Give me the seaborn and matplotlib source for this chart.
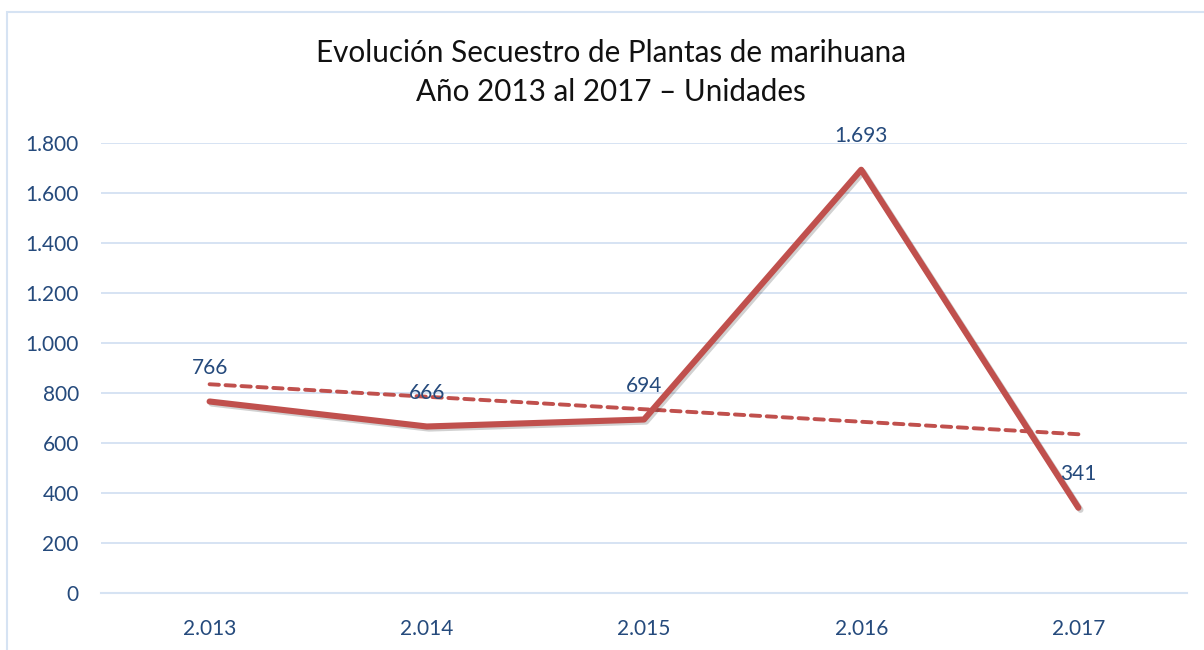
import matplotlib
matplotlib.use("Agg")
import matplotlib.pyplot as plt
import matplotlib.patheffects as pe
from matplotlib.patches import Rectangle
import seaborn as sns
import pandas as pd

years = ["2.013", "2.014", "2.015", "2.016", "2.017"]
plants = [766, 666, 694, 1693, 341]
value_labels = ["766", "666", "694", "1.693", "341"]
trend_years = ["2.013", "2.017"]
trend_values = [835, 635]
y_ticks = [0, 200, 400, 600, 800, 1000, 1200, 1400, 1600, 1800]
y_tick_labels = ["0", "200", "400", "600", "800", "1.000", "1.200", "1.400", "1.600", "1.800"]
title_lines = ["Evolución Secuestro de Plantas de marihuana", "Año 2013 al 2017 – Unidades"]

sns.set_theme(style="white")
plt.rcParams["font.family"] = ["Lato", "DejaVu Sans"]

LINE = "#C0504D"
TXT = "#254A7C"
GRID = "#D6E3F3"

fig = plt.figure(figsize=(12.04, 6.5), dpi=100)
ax = fig.add_axes([101 / 1204, 1 - 593 / 650, (1187 - 101) / 1204, (593 - 143) / 650])

df = pd.DataFrame({"x": list(range(len(years))), "y": plants})
idx = {y: i for i, y in enumerate(years)}
tdf = pd.DataFrame({"x": [idx[t] for t in trend_years], "y": trend_values})

sns.lineplot(data=tdf, x="x", y="y", ax=ax, color=LINE, linewidth=2.8,
             linestyle=(0, (2.4, 1.7)), zorder=3)
sns.lineplot(data=df, x="x", y="y", ax=ax, color=LINE, linewidth=4.4, zorder=4,
             path_effects=[pe.SimpleLineShadow(offset=(1.5, -1.5), alpha=0.2), pe.Normal()])
for line in ax.lines:
    line.set_solid_capstyle("round")
    line.set_dash_capstyle("round")
    line.set_solid_joinstyle("round")

for i, (v, lab) in enumerate(zip(plants, value_labels)):
    ax.annotate(lab, (i, v), xytext=(0, 24), textcoords="offset points",
                ha="center", va="center", fontsize=15, color=TXT, zorder=5)

ax.set_xlim(-0.5, len(years) - 0.5)
ax.set_ylim(0, 1800)
ax.set_yticks(y_ticks)
ax.set_yticklabels(y_tick_labels)
ax.set_xticks(range(len(years)))
ax.set_xticklabels(years)
ax.set_xticks([i - 0.5 for i in range(len(years) + 1)], minor=True)
ax.tick_params(axis="x", which="major", length=0, pad=19, labelsize=15, labelcolor=TXT)
ax.tick_params(axis="x", which="minor", length=8, width=1.5, color=GRID, direction="out")
ax.tick_params(axis="y", length=0, pad=16, labelsize=15, labelcolor=TXT)
ax.yaxis.grid(True, color=GRID, linewidth=1.4)
ax.set_axisbelow(True)
for s in ["left", "right", "top"]:
    ax.spines[s].set_visible(False)
ax.spines["bottom"].set_color(GRID)
ax.spines["bottom"].set_linewidth(1.5)
ax.set_xlabel("")
ax.set_ylabel("")

fig.text(611 / 1204, 1 - 53 / 650, title_lines[0], ha="center", va="center", fontsize=21.3, color="#111111")
fig.text(611 / 1204, 1 - 92 / 650, title_lines[1], ha="center", va="center", fontsize=21.3, color="#111111")

fig.patches.append(Rectangle((7 / 1204, -0.1), 1.2, 1 - 12 / 650 + 0.1, transform=fig.transFigure,
                             fill=False, edgecolor=GRID, linewidth=1.5))

fig.savefig("out.png", dpi=100)
